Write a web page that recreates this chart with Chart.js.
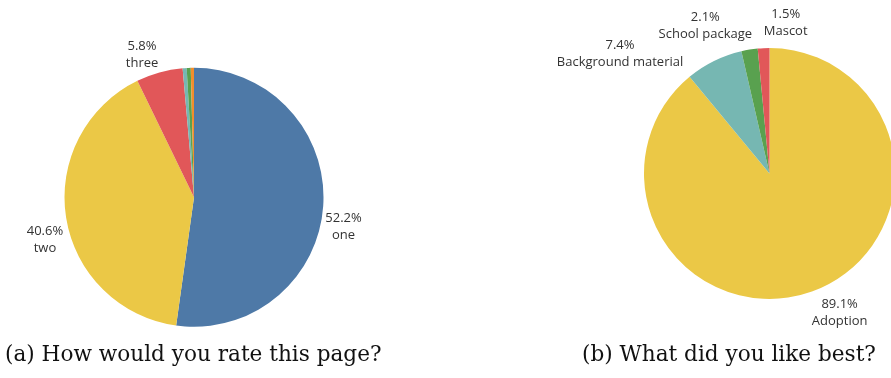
<!DOCTYPE html>
<html>
<head>
<meta charset="utf-8">
<script src="https://cdn.jsdelivr.net/npm/chart.js@4.4.1/dist/chart.umd.min.js"></script>
<style>
  html, body { margin: 0; padding: 0; background: #fff; overflow: hidden; width: 891px; height: 378px; position: relative; }
  canvas { position: absolute; }
  .cap { position: absolute; font-family: "DejaVu Serif", serif; font-size: 21.6px; color: #111; white-space: nowrap; line-height: 1; }
</style>
</head>
<body>
<canvas id="ratePie" width="388" height="378" style="left:0;top:0"></canvas>
<canvas id="likePie" width="351" height="378" style="left:540px;top:0"></canvas>
<div class="cap" id="capA" style="left:5px;top:343px">(a) How would you rate this page?</div>
<div class="cap" id="capB" style="left:582px;top:343px">(b) What did you like best?</div>
<script>
// (a) rating of the page, share of answers in percent
const rateCategories = ['one', 'two', 'three', 'four', 'five', 'none'];
const rateShares = [52.2, 40.6, 5.8, 0.5, 0.5, 0.4];
const rateLabelled = ['one', 'two', 'three'];

// (b) favourite part, share of answers in percent
const likeCategories = ['Adoption', 'Background material', 'School package', 'Mascot'];
const likeShares = [89.1, 7.4, 2.1, 1.5];
const likeLabelled = ['Adoption', 'Background material', 'School package', 'Mascot'];

const palette = {
  blue: '#4e79a7', orange: '#f28e2b', red: '#e15759',
  teal: '#76b7b2', green: '#59a14f', yellow: '#ebc846'
};

// Two-line "value% / name" labels placed just outside each slice,
// shifted a little where neighbouring labels would collide.
function outsideLabels(show, nudge) {
  return {
    id: 'outsideLabels',
    afterDatasetsDraw(chart) {
      const ctx = chart.ctx;
      const meta = chart.getDatasetMeta(0);
      const values = chart.data.datasets[0].data;
      ctx.save();
      ctx.font = '13px "Open Sans"';
      ctx.fillStyle = '#333';
      ctx.textAlign = 'center';
      ctx.textBaseline = 'alphabetic';
      meta.data.forEach((arc, i) => {
        const name = chart.data.labels[i];
        if (!show.includes(name)) return;
        const p = arc.getProps(['x', 'y', 'startAngle', 'endAngle', 'outerRadius'], true);
        const mid = (p.startAngle + p.endAngle) / 2;
        const r = p.outerRadius + 30;
        const shift = nudge[name] || [0, 0];
        const ax = p.x + r * Math.cos(mid) + shift[0];
        const ay = p.y + r * Math.sin(mid) + shift[1];
        ctx.fillText(values[i].toFixed(1) + '%', ax, ay - 4);
        ctx.fillText(name, ax, ay + 13);
      });
      ctx.restore();
    }
  };
}

function pieConfig(labels, data, colors, radius, padding, plugin) {
  return {
    type: 'pie',
    data: {
      labels: labels,
      datasets: [{
        data: data,
        backgroundColor: colors,
        borderWidth: 0
      }]
    },
    options: {
      responsive: false,
      animation: false,
      radius: radius,
      layout: { padding: padding },
      plugins: { legend: { display: false }, tooltip: { enabled: false } }
    },
    plugins: [plugin]
  };
}

new Chart(document.getElementById('ratePie'), pieConfig(
  rateCategories, rateShares,
  [palette.blue, palette.yellow, palette.red, palette.teal, palette.green, palette.orange],
  129.5,
  { top: 16.6, bottom: 0, left: 0, right: 0 },
  outsideLabels(rateLabelled, { one: [-9.6, 17.4], two: [8.5, 16.8], three: [-9.4, 10.4] })
));

new Chart(document.getElementById('likePie'), pieConfig(
  likeCategories, likeShares,
  [palette.yellow, palette.teal, palette.green, palette.red],
  125.5,
  { top: 0, bottom: 31, left: 108, right: 0 },
  outsideLabels(likeLabelled, {
    'Adoption': [17.5, -7.5],
    'Background material': [-80.7, 19],
    'School package': [-39.4, 5],
    'Mascot': [23.5, 4.1]
  })
));
</script>
</body>
</html>
